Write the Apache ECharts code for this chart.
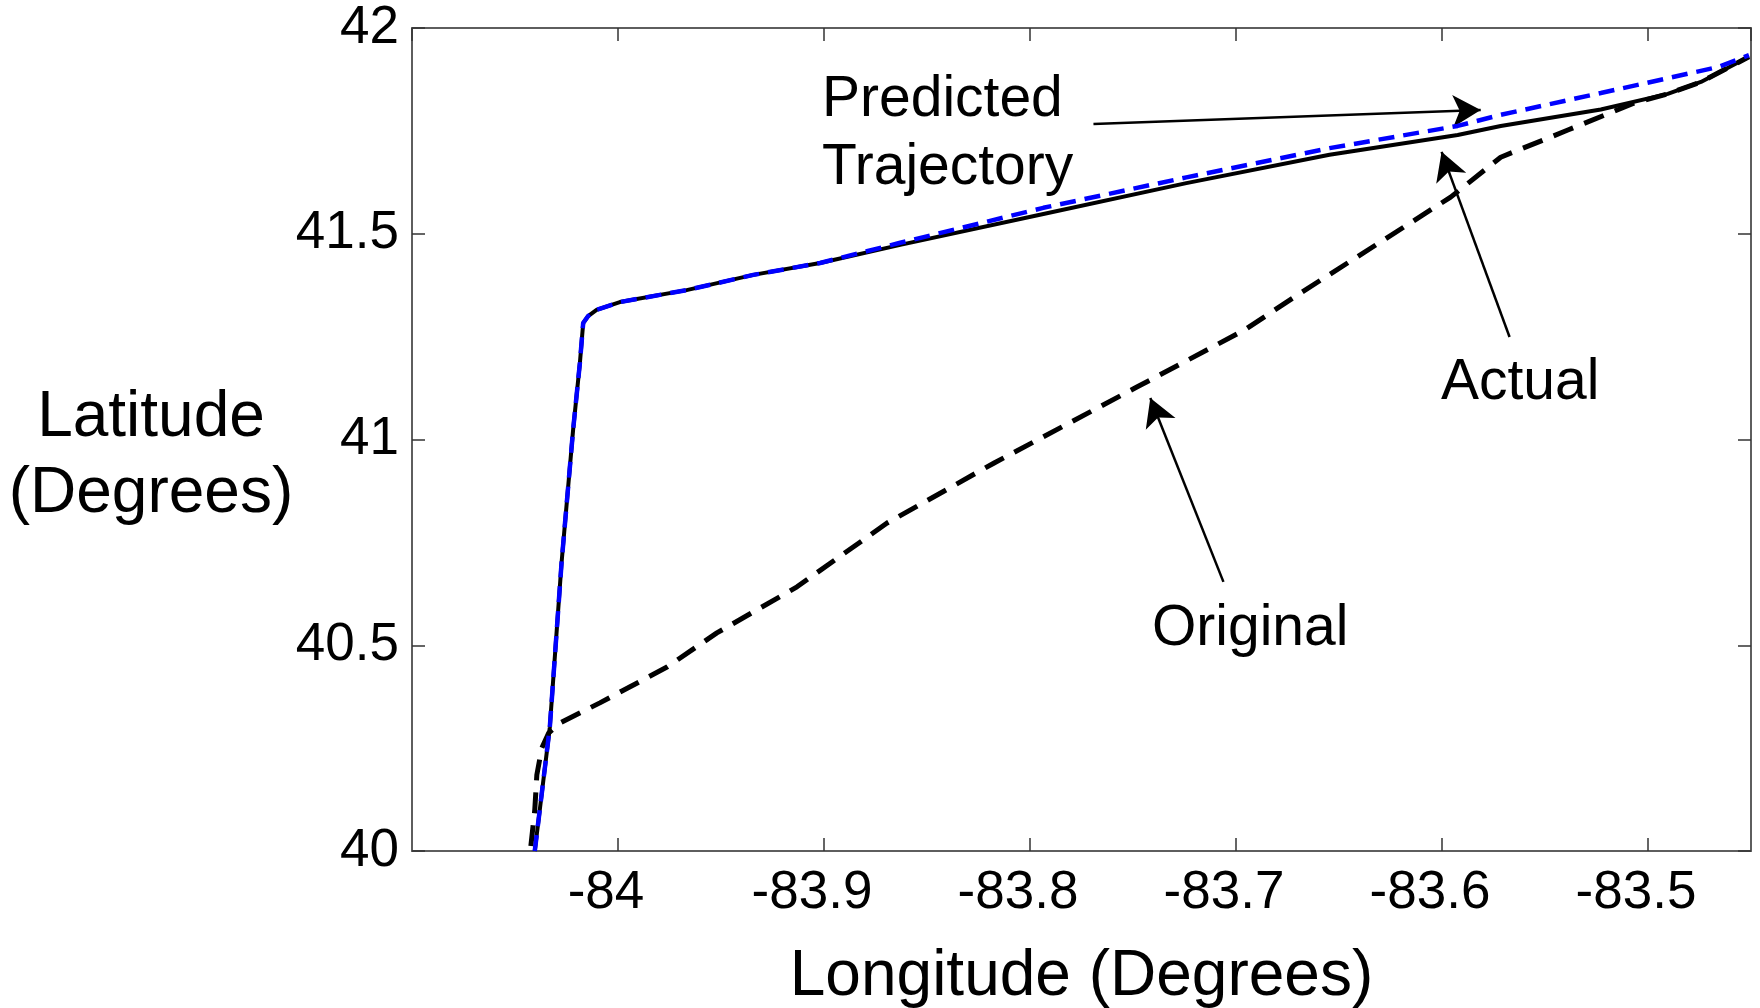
<!DOCTYPE html>
<html>
<head>
<meta charset="utf-8">
<script src="https://cdn.jsdelivr.net/npm/echarts@6/dist/echarts.min.js"></script>
<style>
html,body{margin:0;padding:0;background:#fff;}
#chart{width:1760px;height:1008px;}
</style>
</head>
<body>
<div id="chart"></div>
<script>
// ---- data (longitude, latitude in degrees) ----
const originalTrack = [
  [-84.0423, 40.012], [-84.0404, 40.100], [-84.0394, 40.185], [-84.0370, 40.250],
  [-84.0336, 40.287], [-84.0282, 40.311], [-84.0088, 40.360], [-83.9762, 40.447],
  [-83.9520, 40.530], [-83.9131, 40.642], [-83.8694, 40.797], [-83.8174, 40.943],
  [-83.7479, 41.128], [-83.6959, 41.266], [-83.6687, 41.356], [-83.6283, 41.485],
  [-83.5958, 41.589], [-83.5715, 41.686], [-83.5389, 41.752], [-83.5069, 41.817],
  [-83.4904, 41.840], [-83.4743, 41.869], [-83.4510, 41.930]
];
const actualTrack = [
  [-84.0404, 40.000], [-84.0331, 40.301], [-84.0274, 40.700], [-84.0218, 41.023],
  [-84.0185, 41.186], [-84.0169, 41.283], [-84.0145, 41.300], [-84.0104, 41.315],
  [-83.9991, 41.334], [-83.9667, 41.363], [-83.9343, 41.400], [-83.9019, 41.429],
  [-83.8630, 41.473], [-83.7935, 41.548], [-83.7241, 41.623], [-83.6546, 41.692],
  [-83.5924, 41.740], [-83.5715, 41.762], [-83.5229, 41.802], [-83.4904, 41.840],
  [-83.4743, 41.869], [-83.4510, 41.930]
];
const predictedTrack = [
  [-84.0404, 40.000], [-84.0331, 40.301], [-84.0274, 40.700], [-84.0218, 41.023],
  [-84.0185, 41.186], [-84.0169, 41.283], [-84.0145, 41.300], [-84.0104, 41.315],
  [-83.9991, 41.334], [-83.9667, 41.363], [-83.9343, 41.400], [-83.9019, 41.429],
  [-83.8630, 41.478], [-83.7935, 41.563], [-83.7241, 41.637], [-83.6546, 41.708],
  [-83.5924, 41.762], [-83.5715, 41.789], [-83.5229, 41.842], [-83.4904, 41.878],
  [-83.4661, 41.905], [-83.4510, 41.934]
];
// annotation arrows: [tail, tip]
const arrowPredicted = [[-83.7692, 41.767], [-83.5812, 41.801]];
const arrowActual    = [[-83.5672, 41.249], [-83.6002, 41.699]];
const arrowOriginal  = [[-83.7061, 40.654], [-83.7416, 41.101]];
const annotationTexts = ['Predicted\nTrajectory', 'Actual', 'Original'];
const axisTitles = {x: 'Longitude (Degrees)', y: 'Latitude\n(Degrees)'};
const xRange = {min: -84.1, max: -83.45, interval: 0.1};
const yRange = {min: 40, max: 42, interval: 0.5};

const FONT = "'Liberation Sans', Arial, Helvetica, sans-serif";
const frameColor = '#5e5e5e';

function frameAxis(extra) {
  return Object.assign({
    type: 'value',
    axisLine: {show: true, onZero: false, lineStyle: {color: frameColor, width: 2}},
    axisTick: {show: true, inside: true, length: 13, lineStyle: {color: '#333', width: 1.5}},
    splitLine: {show: false},
    axisLabel: {show: false}
  }, extra);
}

const chart = echarts.init(document.getElementById('chart'));
function arrowLine(pair) {
  return [{coord: pair[0]}, {coord: pair[1]}];
}
chart.setOption({
  animation: false,
  backgroundColor: '#fff',
  grid: {left: 412, right: 9, top: 28, bottom: 157, containLabel: false, outerBoundsMode: 'none'},
  xAxis: [
    frameAxis({
      position: 'bottom', min: xRange.min, max: xRange.max, interval: xRange.interval,
      axisLabel: {show: true, showMinLabel: false, showMaxLabel: false, margin: 16,
        fontSize: 53, fontFamily: FONT, color: '#000', padding: [0, 24, 0, 0]},
      name: axisTitles.x, nameLocation: 'middle', nameGap: 94, nameMoveOverlap: false,
      nameTextStyle: {fontSize: 64, fontFamily: FONT, color: '#000'}
    }),
    frameAxis({position: 'top', min: xRange.min, max: xRange.max, interval: xRange.interval})
  ],
  yAxis: [
    frameAxis({
      position: 'left', min: yRange.min, max: yRange.max, interval: yRange.interval,
      axisLabel: {show: true, margin: 13, fontSize: 53, fontFamily: FONT, color: '#000'}
    }),
    frameAxis({position: 'right', min: yRange.min, max: yRange.max, interval: yRange.interval})
  ],
  series: [
    {
      name: 'Original', type: 'line', data: originalTrack, showSymbol: false, z: 3,
      lineStyle: {color: '#000', width: 5, type: [21, 12], cap: 'butt'}
    },
    {
      name: 'Actual', type: 'line', data: actualTrack, showSymbol: false, z: 4,
      lineStyle: {color: '#000', width: 4},
      markLine: {
        silent: true, symbol: ['none', 'arrow'], symbolSize: [24, 28],
        label: {show: false},
        lineStyle: {color: '#000', width: 2.5, type: 'solid'},
        emphasis: {disabled: true},
        data: [arrowLine(arrowPredicted), arrowLine(arrowActual), arrowLine(arrowOriginal)]
      }
    },
    {
      name: 'Predicted', type: 'line', data: predictedTrack, showSymbol: false, z: 5,
      lineStyle: {color: '#0000ff', width: 4.5, type: [16, 9], cap: 'butt'}
    }
  ],
  graphic: [
    {type: 'text', x: 151, y: 456, style: {text: axisTitles.y, font: '64px ' + FONT,
      lineHeight: 76, fill: '#000', align: 'center', verticalAlign: 'middle'}},
    {type: 'text', x: 822, y: 134, style: {text: annotationTexts[0], font: '57px ' + FONT,
      lineHeight: 68, fill: '#000', align: 'left', verticalAlign: 'middle'}},
    {type: 'text', x: 1441, y: 383, style: {text: annotationTexts[1], font: '57px ' + FONT,
      fill: '#000', align: 'left', verticalAlign: 'middle'}},
    {type: 'text', x: 1152, y: 629, style: {text: annotationTexts[2], font: '57px ' + FONT,
      fill: '#000', align: 'left', verticalAlign: 'middle'}}
  ]
});
</script>
</body>
</html>
